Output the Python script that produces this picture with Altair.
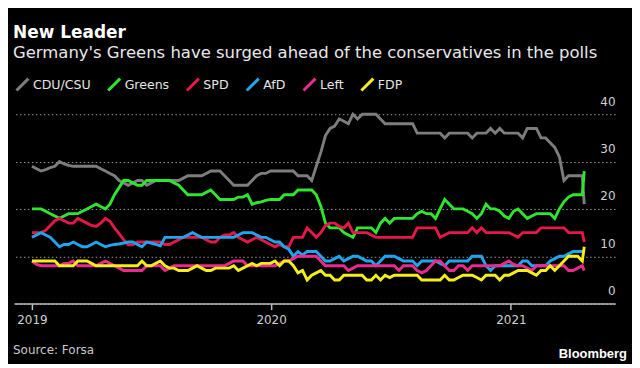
import altair as alt
import pandas as pd

parties = ["CDU/CSU", "Greens", "SPD", "AfD", "Left", "FDP"]
colors = ["#7d7d7d", "#2fe62f", "#e8174a", "#1fa6ee", "#ec2a8e", "#f6ee1a"]

# weekly Forsa polls from 2019-01-01, plus the last poll a few days later
poll_dates = list(pd.date_range("2019-01-01", periods=121, freq="7D").strftime("%Y-%m-%d")) + ["2021-04-23"]

cdu = [29, 28.5, 28, 28.3, 28.7, 29, 30, 29.5, 29.2, 29,
       29, 29, 29, 29, 29, 28.5, 28, 27.5, 27, 26,
       25.5, 25, 25.5, 26, 26, 25, 25.5, 26, 26, 26,
       26, 26, 26, 26.5, 27, 27, 27, 27, 27.5, 28,
       28, 28, 27, 26, 25, 25, 25, 25, 26, 27,
       27.5, 27.5, 28, 28, 28, 28, 28, 28, 27, 27,
       27, 26, 29, 32, 35.5, 37, 37.5, 39, 38.5, 38,
       40, 39, 40, 40, 40, 40, 39, 38, 38, 38,
       38, 38, 38, 38, 36, 36, 36, 36, 36, 36,
       35, 36, 36, 36, 36, 36, 35, 36, 36, 36,
       37, 36, 37, 36, 36, 36, 36, 35, 37, 37,
       37, 35, 35, 34, 33, 31, 26, 27, 27, 27, 27,
       21]
greens = [20, 20, 20, 19.5, 19, 18.5, 18, 18.5, 19, 19,
          19, 19.5, 20, 20.5, 21, 20.5, 20, 21, 23, 24.5,
          26, 26, 25.5, 25, 25, 26, 26, 26, 26, 26,
          26, 25.5, 25, 24, 23, 23, 23, 23, 23.5, 24,
          23, 22, 22, 22, 22, 22.5, 22.5, 23, 21, 21.3,
          21.5, 21.8, 22, 22, 22, 23, 23, 23, 24, 24,
          24, 24, 23, 20.5, 17, 16, 16, 16, 15, 14.5,
          14, 16, 16, 16, 16, 15, 17, 18, 17, 18,
          18, 18, 18, 18, 19, 19.5, 19, 19, 18, 20,
          22, 21, 20, 20, 20, 19.5, 19, 18, 19, 21,
          20, 20, 19.5, 18.5, 18, 19.5, 20, 19, 18, 18.5,
          19, 19, 19, 19, 18, 20, 21.5, 22.5, 23, 23, 23,
          28]
spd = [15, 15, 15, 15.5, 16.5, 17.5, 18, 17.5, 17, 17,
       18, 17.5, 17, 16.5, 16.3, 17, 18, 17.4, 16, 14.8,
       13.5, 12.4, 12.4, 13, 13, 13, 13, 13, 13, 12.5,
       12.5, 13, 13.5, 14, 14, 14, 14, 14, 13.5, 13,
       13, 14, 14.5, 14.5, 15, 14, 13.5, 13, 13.5, 14,
       13.5, 13, 12.5, 12, 12.5, 12, 12, 14, 14, 14,
       16, 15, 14, 15, 16.5, 17, 17, 16.3, 16, 17,
       15, 15, 15, 15, 14.5, 14, 14, 14, 14, 14,
       14, 14, 14, 14, 16, 16, 16, 16, 16, 14,
       14.5, 15, 15, 15, 15, 15, 16, 15, 16, 15,
       15, 15, 15, 15, 15, 14.5, 14, 15, 15, 15,
       15, 16, 16, 16, 16, 16, 16, 15, 15, 15, 15,
       13]
afd = [14, 14.5, 15, 14.5, 14, 13, 12, 12.5, 12.5, 13,
       12.5, 12, 12, 12.5, 13, 12.5, 12, 12.3, 12.5, 12.6,
       12.8, 13, 13, 12.5, 12, 13, 12.8, 12.5, 12.2, 14,
       14, 14, 14, 14, 14.5, 15, 14.5, 14, 14, 14,
       14, 14, 14, 14, 14, 14.5, 15, 15, 15, 14.5,
       14, 14, 13.5, 13, 13, 12, 11.5, 10, 11, 10.3,
       11, 11, 11, 10, 9, 9, 9.5, 10, 9, 9.5,
       10, 10, 9.5, 9, 9, 8, 9, 10, 10, 10,
       9.5, 9, 9, 9, 8, 9, 9, 9, 9, 8.5,
       8, 9, 9, 9, 9, 9, 10, 10, 10, 8,
       7, 8, 8, 8, 8, 8, 8, 9, 9, 8,
       8, 8, 8, 9, 9.5, 10, 10, 10.5, 11, 11, 11,
       11]
left = [9, 8.3, 8, 8, 8, 8, 8, 8.5, 8.5, 9,
        8, 8, 8, 8, 8, 8.5, 9, 8.5, 8, 7.5,
        7, 7, 7, 7, 7, 8, 8, 8, 8, 7,
        7.5, 8, 8, 8, 8, 8, 8, 8, 8, 8,
        8, 8, 8, 8.5, 9, 9, 9, 8, 8, 8,
        8, 8, 8, 8, 8.5, 9, 9, 9.5, 10, 10,
        10, 10, 10, 9, 8, 8, 8, 8, 8, 7,
        7.5, 8, 8, 8, 8, 8, 8, 8, 8, 8,
        7, 8, 8, 8, 7, 6.5, 7, 8, 9, 9,
        8, 7, 7, 8, 8, 7, 8, 8, 8, 8,
        8, 8, 8, 8.5, 9, 8.3, 8, 8, 7.5, 7,
        8, 8, 8, 8, 8, 8, 8, 7, 7, 7.5, 8,
        7]
fdp = [9, 9, 9, 9, 9, 9, 8, 8, 8, 8,
       9, 9, 9, 8.5, 8, 8, 8, 8, 8, 8,
       8, 8, 8, 8, 9, 8, 8, 8.5, 9, 8,
       7.5, 7.5, 7, 7, 7, 7.5, 8, 7.5, 7, 7,
       7.5, 7.5, 7.5, 7.5, 8, 7, 7.5, 8, 8.5, 8,
       8.5, 8.5, 8.5, 9, 8, 9, 9, 8, 6.5, 7,
       5, 6, 6.5, 7, 6, 6, 5, 5, 6, 6,
       6, 6, 6, 5, 5, 6, 5, 6, 5.5, 6,
       6, 6, 6, 6, 6, 5, 5, 5, 5, 5,
       6, 5, 5, 5.5, 6, 6, 6, 5.5, 5, 6,
       6, 6, 5, 6, 6, 6.5, 7, 7, 7, 6.5,
       6, 7, 7, 8, 7, 8, 9, 10, 10, 10, 9,
       12]

title_text = "New Leader"
subtitle_text = "Germany's Greens have surged ahead of the conservatives in the polls"
source_text = "Source: Forsa"
brand_text = "Bloomberg"
y_ticks = [0, 10, 20, 30, 40]
x_ticks = [2019, 2020, 2021]

series = dict(zip(parties, [cdu, greens, spd, afd, left, fdp]))
rows = []
for p in parties:
    vals = series[p]
    assert len(vals) == len(poll_dates), (p, len(vals))
    for d, v in zip(poll_dates, vals):
        rows.append({"date": d, "party": p, "value": v})
df = pd.DataFrame(rows)

FONT = "DejaVu Sans"

lines = alt.Chart(df).mark_line(strokeWidth=2.9).encode(
    x=alt.X(
        "date:T",
        scale=alt.Scale(
            type="utc",
            domain=[alt.DateTime(year=2018, month=12, date=4, hours=14, utc=True),
                    alt.DateTime(year=2021, month=6, date=9, utc=True)],
        ),
        axis=alt.Axis(
            title=None,
            values=[alt.DateTime(year=y, month=1, date=1, utc=True) for y in x_ticks],
            format="%Y",
            grid=False,
            domainColor="#bdbdbd",
            domainWidth=1.5,
            tickColor="#bdbdbd",
            tickWidth=1.5,
            tickSize=6,
            labelPadding=5,
            labelFont=FONT,
            labelFontSize=12,
            labelColor="#d0d0d0",
            labelFlush=False,
        ),
    ),
    y=alt.Y(
        "value:Q",
        scale=alt.Scale(domain=[0, 40], nice=False),
        axis=alt.Axis(
            title=None,
            orient="right",
            values=y_ticks,
            grid=True,
            gridColor="#9a9a9a",
            gridDash=[1.5, 2.5],
            gridWidth=1,
            domain=False,
            ticks=False,
            tickSize=0,
            labelAlign="right",
            labelPadding=0,
            labelBaseline="alphabetic",
            labelOffset=-9,
            labelFont=FONT,
            labelFontSize=12,
            labelColor="#d0d0d0",
        ),
    ),
    color=alt.Color(
        "party:N",
        scale=alt.Scale(domain=parties, range=colors),
        legend=alt.Legend(
            title=None,
            orient="none",
            legendX=1,
            legendY=-37.5,
            direction="horizontal",
            symbolType="M-1,1L1,-1",
            symbolSize=144,
            symbolStrokeWidth=3,
            labelFont=FONT,
            labelFontSize=12.6,
            labelColor="#e6e6e6",
            labelOffset=3,
            columnPadding=11,
            padding=0,
        ),
    ),
)


def label(text, x, y, size, color, weight="normal", align="left", font=FONT):
    return alt.Chart(pd.DataFrame({"t": [text]})).mark_text(
        align=align, baseline="alphabetic", font=font, fontSize=size,
        fontWeight=weight, color=color,
    ).encode(text="t:N", x=alt.value(x), y=alt.value(y))


title = label(title_text, -1, -76, 17, "#ffffff", weight="bold")
subtitle = label(subtitle_text, -1, -56.5, 16.5, "#e8e8e8")
source = label(source_text, -1, 240.5, 12, "#c8c8c8")
brand = label(brand_text, 615, 245, 13, "#ffffff", weight="bold", align="right", font="Liberation Sans")

chart = alt.layer(lines, title, subtitle, source, brand).properties(
    width=603,
    height=190,
    autosize=alt.AutoSizeParams(type="none"),
    padding={"left": 6, "top": 106, "right": 17, "bottom": 60},
    background="#000000",
).configure_view(stroke=None)

chart.save("out.html", embed_options={"renderer": "svg", "actions": False})
